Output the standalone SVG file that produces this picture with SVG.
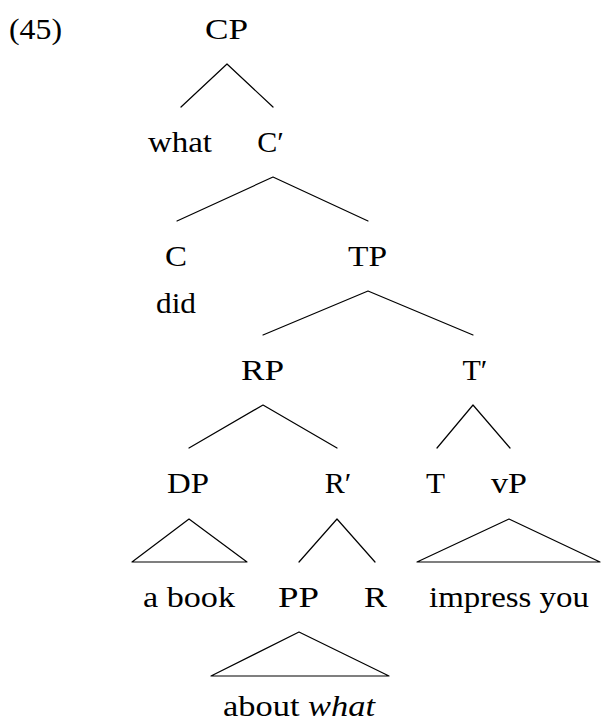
<svg xmlns="http://www.w3.org/2000/svg" width="601" height="722" viewBox="0 0 601 722">
<style>
text{font-family:"Liberation Serif","Times New Roman",serif;font-size:30px;fill:#000;text-anchor:middle}
.e{stroke:#000;stroke-width:1.2;fill:none;stroke-linecap:round;stroke-linejoin:round}
</style>
<rect width="601" height="722" fill="#fff"/>
<text x="35.5" y="39" textLength="53" lengthAdjust="spacingAndGlyphs">(45)</text>
<g id="CP"><text x="226.5" y="39" textLength="43" lengthAdjust="spacingAndGlyphs">CP</text></g>
<g id="what"><text x="180" y="152" textLength="64" lengthAdjust="spacingAndGlyphs">what</text></g>
<g id="Cbar"><text x="270.5" y="152">C′</text></g>
<g id="C"><text x="176" y="266" textLength="22" lengthAdjust="spacingAndGlyphs">C</text><text x="176" y="313" textLength="40" lengthAdjust="spacingAndGlyphs">did</text></g>
<g id="TP"><text x="367.5" y="266" textLength="39" lengthAdjust="spacingAndGlyphs">TP</text></g>
<g id="RP"><text x="262.5" y="380" textLength="43" lengthAdjust="spacingAndGlyphs">RP</text></g>
<g id="Tbar"><text x="475" y="380">T′</text></g>
<g id="DP"><text x="188" y="493" textLength="42" lengthAdjust="spacingAndGlyphs">DP</text></g>
<g id="Rbar"><text x="338" y="493">R′</text></g>
<g id="T"><text x="435.5" y="493" textLength="19" lengthAdjust="spacingAndGlyphs">T</text></g>
<g id="vP"><text x="509" y="493" textLength="36" lengthAdjust="spacingAndGlyphs">vP</text></g>
<g id="abook"><text x="189" y="607" textLength="92" lengthAdjust="spacingAndGlyphs">a book</text></g>
<g id="PP"><text x="298.5" y="607" textLength="41" lengthAdjust="spacingAndGlyphs">PP</text></g>
<g id="R"><text x="375.5" y="607" textLength="23" lengthAdjust="spacingAndGlyphs">R</text></g>
<g id="impressyou"><text x="509" y="607" textLength="160" lengthAdjust="spacingAndGlyphs">impress you</text></g>
<g id="aboutwhat"><text x="299" y="716" textLength="152" lengthAdjust="spacingAndGlyphs">about <tspan font-style="italic">what</tspan></text></g>
<g id="connectors" class="e">
<polyline points="181,107 227,64 273,107"/>
<polyline points="177,221 273,177 368,221"/>
<polyline points="263,335 368,291 473,335"/>
<polyline points="189,448 263,405 337,448"/>
<polyline points="437,448 473,405 510,448"/>
<polygon points="132,562 189,519 247,562"/>
<polyline points="299,562 337,519 375,562"/>
<polygon points="417,562 509,519 600,562"/>
<polygon points="211,676 299,632 389,676"/>
</g>
</svg>
